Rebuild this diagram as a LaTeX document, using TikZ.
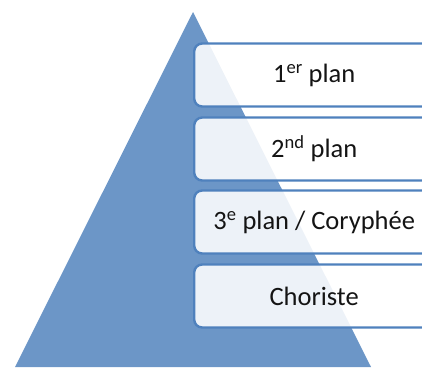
\documentclass[tikz,border=0pt]{standalone}
\usepackage{fontspec}
\setmainfont{Carlito}
\definecolor{tri}{RGB}{108,150,199}
\definecolor{edge}{RGB}{79,129,189}
\definecolor{txt}{RGB}{20,20,20}
\begin{document}
\begin{tikzpicture}[x=1pt,y=-1pt,
  level/.style={draw=edge,line width=2.4pt,rounded corners=8pt,fill=white,fill opacity=0.88,text opacity=1,
    minimum width=262pt,minimum height=63pt,inner sep=0pt,text=txt,font=\fontsize{26.5}{30}\selectfont,anchor=west,
    execute at begin node={\hskip-22pt}}]
\useasboundingbox (0,0) rectangle (422,367);
\fill[tri] (193,12) -- (371,367) -- (15,367) -- cycle;
\node[level] (l1) at (193,75) {1\textsuperscript{er} plan};
\node[level] (l2) at (193,149) {2\textsuperscript{nd} plan};
\node[level] (l3) at (193,222) {3\textsuperscript{e} plan / Coryphée};
\node[level] (l4) at (193,296) {Choriste};
\end{tikzpicture}
\end{document}
